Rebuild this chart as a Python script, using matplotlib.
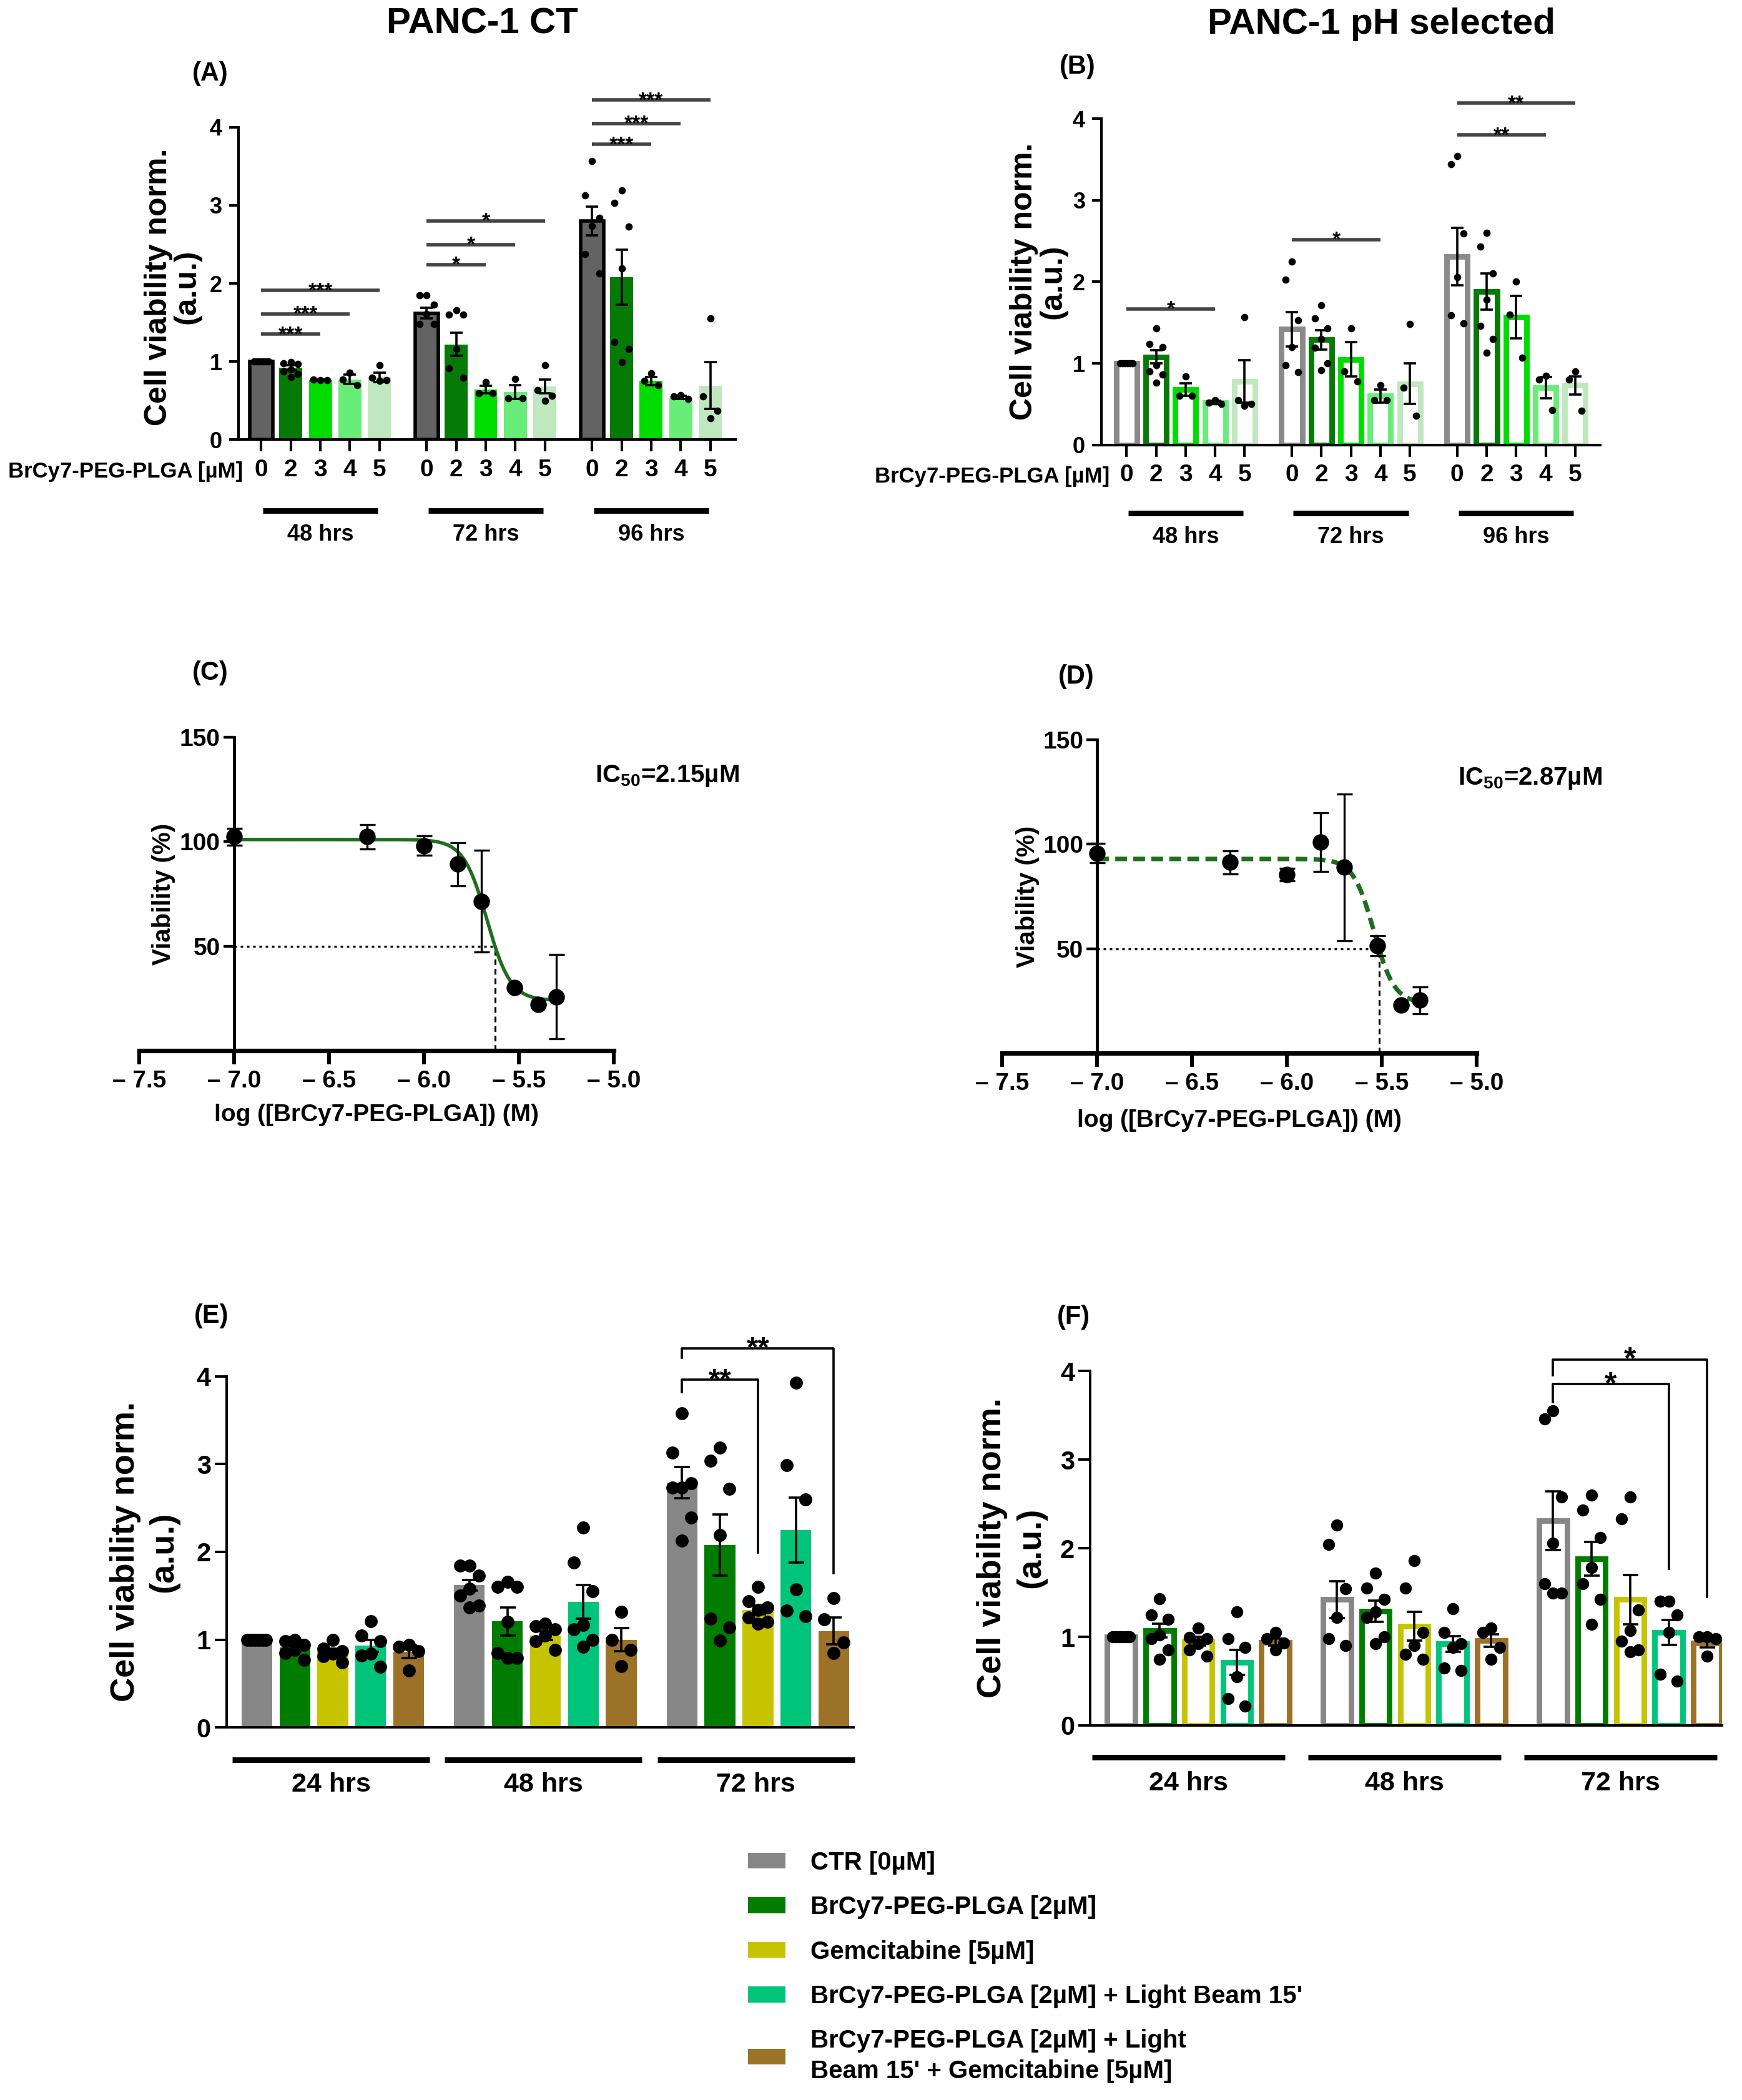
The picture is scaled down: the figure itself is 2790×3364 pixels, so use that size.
import numpy as np
import matplotlib
matplotlib.use("Agg")
import matplotlib.pyplot as plt
from matplotlib.patches import Patch

plt.rcParams['font.family'] = ['Liberation Sans', 'DejaVu Sans']
plt.rcParams['font.weight'] = 'bold'
plt.rcParams['mathtext.fontset'] = 'custom'
plt.rcParams['mathtext.rm'] = 'Liberation Sans:bold'
plt.rcParams['mathtext.bf'] = 'Liberation Sans:bold'
plt.rcParams['mathtext.it'] = 'Liberation Sans:bold'

# ---------------------------------------------------------------- data
doses = ['0', '2', '3', '4', '5']
times_AB = ['48 hrs', '72 hrs', '96 hrs']
times_EF = ['24 hrs', '48 hrs', '72 hrs']

# (A) PANC-1 CT, BrCy7-PEG-PLGA 0/2/3/4/5 uM
A_mean = [[1.00, 0.92, 0.76, 0.77, 0.80],
          [1.62, 1.22, 0.64, 0.61, 0.68],
          [2.80, 2.08, 0.75, 0.54, 0.69]]
A_sem = [[0.00, 0.03, 0.01, 0.06, 0.06],
         [0.07, 0.15, 0.05, 0.09, 0.09],
         [0.18, 0.35, 0.05, 0.02, 0.30]]
A_pts = [
    [[1.0] * 6, [0.99, 0.98, 0.97, 0.90, 0.87, 0.84, 0.80], [0.77, 0.76, 0.76],
     [0.86, 0.77, 0.70], [0.95, 0.79, 0.76, 0.75]],
    [[1.85, 1.85, 1.73, 1.61, 1.48, 1.48], [1.66, 1.60, 1.60, 1.16, 0.91, 0.79],
     [0.74, 0.59, 0.59], [0.78, 0.53, 0.53], [0.95, 0.63, 0.56, 0.50]],
    [[3.57, 3.13, 2.84, 2.74, 2.38, 2.13], [3.19, 3.03, 2.73, 2.19, 1.25, 1.16, 0.99],
     [0.85, 0.75, 0.70], [0.57, 0.55, 0.52], [1.55, 0.55, 0.37, 0.27]],
]
# (group, bar index, y, label)
A_sig = [(0, 2, 1.35, '***'), (0, 3, 1.61, '***'), (0, 4, 1.91, '***'),
         (1, 2, 2.24, '*'), (1, 3, 2.50, '*'), (1, 4, 2.80, '*'),
         (2, 2, 3.78, '***'), (2, 3, 4.05, '***'), (2, 4, 4.35, '***')]

# (B) PANC-1 pH selected
B_mean = [[1.00, 1.08, 0.68, 0.52, 0.78],
          [1.42, 1.29, 1.05, 0.60, 0.75],
          [2.31, 1.88, 1.57, 0.70, 0.73]]
B_sem = [[0.00, 0.08, 0.075, 0.02, 0.26],
         [0.21, 0.12, 0.21, 0.08, 0.25],
         [0.35, 0.22, 0.26, 0.13, 0.11]]
B_pts = [
    [[1.0] * 6, [1.43, 1.24, 1.20, 0.98, 0.90, 0.86, 0.76], [0.84, 0.60, 0.60],
     [0.55, 0.52, 0.50], [1.57, 0.55, 0.50, 0.48]],
    [[2.25, 2.03, 1.53, 1.20, 0.98, 0.89], [1.71, 1.55, 1.43, 1.30, 1.19, 1.00, 0.92],
     [1.43, 0.90, 0.78], [0.73, 0.55, 0.55], [1.48, 0.70, 0.36]],
    [[3.54, 3.44, 2.59, 2.06, 1.59, 1.49], [2.60, 2.43, 2.10, 1.78, 1.46, 1.30, 1.13],
     [2.00, 1.60, 1.07], [0.85, 0.80, 0.43], [0.90, 0.80, 0.42]],
]
B_sig = [(0, 3, 1.67, '*'), (1, 3, 2.52, '*'), (2, 3, 3.80, '**'), (2, 4, 4.19, '**')]

# (C)/(D) dose response
conc_uM = [0.1, 0.5, 1.0, 1.5, 2.0, 3.0, 4.0, 5.0]
C_via = [102.3, 102.3, 98.0, 89.2, 71.5, 30.3, 22.0, 25.8]
C_err = [4.0, 5.8, 4.6, 10.4, 24.3, 0.0, 0.0, 20.2]
D_via = [95.7, 91.4, 85.5, 101.0, 89.0, 51.4, 23.0, 25.4]
D_err = [4.6, 5.6, 3.0, 14.0, 35.0, 4.8, 0.0, 6.4]
C_ic50_uM, C_top, C_bottom, C_hill = 2.15, 101.0, 24.0, 7.0
D_ic50_uM, D_top, D_bottom, D_hill = 2.87, 93.0, 24.0, 8.0

# (E)/(F) treatments
treat_labels = ['CTR [0\u00b5M]', 'BrCy7-PEG-PLGA [2\u00b5M]', 'Gemcitabine [5\u00b5M]',
                "BrCy7-PEG-PLGA [2\u00b5M] + Light Beam 15'",
                "BrCy7-PEG-PLGA [2\u00b5M] + Light\nBeam 15' + Gemcitabine [5\u00b5M]"]
E_mean = [[1.00, 0.91, 0.87, 0.93, 0.86],
          [1.62, 1.21, 1.05, 1.43, 1.00],
          [2.79, 2.08, 1.34, 2.25, 1.10]]
E_sem = [[0.00, 0.03, 0.03, 0.07, 0.07],
         [0.06, 0.16, 0.05, 0.19, 0.13],
         [0.18, 0.35, 0.05, 0.37, 0.15]]
E_pts = [
    [[1.0] * 6, [1.00, 0.98, 0.94, 0.88, 0.85, 0.77], [1.00, 0.90, 0.87, 0.84, 0.81, 0.74],
     [1.21, 1.05, 0.98, 0.84, 0.82, 0.69], [0.94, 0.92, 0.87, 0.65]],
    [[1.84, 1.84, 1.73, 1.58, 1.50, 1.39, 1.37], [1.66, 1.60, 1.60, 1.20, 0.85, 0.79, 0.79],
     [1.18, 1.15, 1.12, 1.05, 0.98, 0.88], [2.28, 1.88, 1.55, 1.17, 1.12, 1.00, 0.92],
     [1.32, 1.00, 0.88, 0.70]],
    [[3.58, 3.13, 2.78, 2.73, 2.73, 2.39, 2.13], [3.19, 3.04, 2.72, 2.19, 1.24, 1.14, 0.99],
     [1.60, 1.44, 1.37, 1.34, 1.25, 1.20, 1.18], [3.93, 2.99, 2.60, 1.57, 1.33, 1.27],
     [1.47, 1.23, 0.97, 0.85]],
]
# (bar index, top, left leg end, right leg end, label) inside the last group
E_br = [(2, 3.96, 3.82, 1.99, '**'), (4, 4.32, 4.21, 1.76, '**')]

F_mean = [[1.00, 1.07, 0.95, 0.71, 0.94],
          [1.42, 1.29, 1.12, 0.92, 0.96],
          [2.31, 1.88, 1.42, 1.05, 0.93]]
F_sem = [[0.00, 0.08, 0.05, 0.14, 0.04],
         [0.21, 0.12, 0.16, 0.09, 0.07],
         [0.33, 0.19, 0.28, 0.14, 0.05]]
F_pts = [
    [[1.0] * 6, [1.43, 1.25, 1.20, 1.02, 0.98, 0.85, 0.75], [1.10, 0.99, 0.98, 0.92, 0.85, 0.78],
     [1.28, 0.98, 0.88, 0.55, 0.30, 0.22], [1.05, 0.98, 0.93, 0.85]],
    [[2.26, 2.04, 1.54, 1.22, 0.98, 0.90], [1.72, 1.55, 1.42, 1.28, 1.22, 1.00, 0.92],
     [1.86, 1.55, 1.05, 0.90, 0.80, 0.75], [1.32, 1.05, 0.92, 0.88, 0.65, 0.62],
     [1.10, 1.05, 0.88, 0.75]],
    [[3.55, 3.46, 2.58, 2.06, 1.60, 1.49, 1.49], [2.60, 2.43, 2.12, 1.78, 1.60, 1.42, 1.14],
     [2.58, 2.33, 1.30, 1.07, 0.95, 0.85, 0.83], [1.40, 1.40, 1.25, 1.05, 0.58, 0.50],
     [1.00, 1.00, 0.98, 0.78]],
]
F_br = [(3, 3.85, 3.65, 1.77, '*'), (4, 4.13, 3.95, 1.45, '*')]

AB_colors = ['#636363', '#067a06', '#00dc00', '#68ee78', '#bfe8bf']
B_colors = ['#8a8a8a', '#067a06', '#00dc00', '#68ee78', '#bfe8bf']
EF_colors = ['#878787', '#007c00', '#c6c400', '#00c47a', '#9b7228']
C_curve_color = '#1e6e1e'

# ---------------------------------------------------------------- layout helpers
W, H = 1300.0, 1567.0
GROUP_X = [0.0, 5.6, 11.2]

fig = plt.figure(figsize=(13.95, 16.82), dpi=200)


def rect(l, r, t, b):
    return [l / W, 1 - b / H, (r - l) / W, (b - t) / H]


def ftext(x, y, s, **kw):
    fig.text(x / W, 1 - y / H, s, **kw)


def spread(vals, s=0.22):
    vals = np.asarray(vals, float)
    n = len(vals)
    if vals.max() - vals.min() < 0.02:
        return np.linspace(-s, s, n)
    pattern = np.array([0.0, -s, s])
    off = np.zeros(n)
    off[np.argsort(-vals)] = pattern[np.arange(n) % 3]
    return off


def draw_bars(ax, means, sems, pts, colors, hollow, width, ms, cap, first_edge=False):
    for g, x0 in enumerate(GROUP_X):
        for i in range(5):
            x = x0 + i
            if hollow:
                ax.bar(x, means[g][i], width, facecolor='white', edgecolor=colors[i],
                       linewidth=3.2, zorder=2)
            elif i == 0 and first_edge:
                ax.bar(x, means[g][i], width, facecolor=colors[i], edgecolor='black',
                       linewidth=2.0, zorder=2)
            else:
                ax.bar(x, means[g][i], width, color=colors[i], linewidth=0, zorder=2)
            ax.errorbar(x, means[g][i], yerr=sems[g][i], fmt='none', ecolor='black',
                        elinewidth=1.3, capsize=cap, capthick=1.3, zorder=3)
            p = np.asarray(pts[g][i])
            ax.plot(x + spread(p, 0.24 * width / 0.78), p, 'o', color='black', ms=ms,
                    mec='none', zorder=4, clip_on=False)


def bar_axes(ax, xlim, ysize, spine_w, tick_len, pad):
    ax.set_xlim(*xlim)
    ax.set_ylim(0, 4)
    ax.set_yticks(range(5))
    ax.spines['top'].set_visible(False)
    ax.spines['right'].set_visible(False)
    ax.spines['left'].set_linewidth(spine_w)
    ax.spines['bottom'].set_linewidth(spine_w)
    ax.tick_params(axis='y', length=tick_len, width=spine_w, labelsize=ysize, pad=pad)


def group_lines(ax, labels, a, b, yl, yt, size):
    tr = ax.get_xaxis_transform()
    for x0, lab in zip(GROUP_X, labels):
        ax.plot([x0 + a, x0 + b], [yl, yl], color='black', lw=3.2, transform=tr,
                clip_on=False, solid_capstyle='butt')
        ax.text(x0 + (a + b) / 2, yt, lab, transform=tr, ha='center', va='center',
                fontsize=size)


def sig_lines(ax, sig, size, color):
    for g, k, y, stars in sig:
        x0 = GROUP_X[g]
        ax.plot([x0, x0 + k], [y, y], color=color, lw=2.0, clip_on=False,
                solid_capstyle='butt')
        ax.annotate(stars, (x0 + k / 2, y), xytext=(0, -0.3 * size), textcoords='offset points',
                    ha='center', va='baseline', fontsize=size, annotation_clip=False)


def brackets(ax, br, size):
    x0 = GROUP_X[2]
    for k, top, lb, rb, stars in br:
        ax.plot([x0, x0, x0 + k, x0 + k], [lb, top, top, rb], color='black', lw=1.3,
                clip_on=False)
        ax.annotate(stars, (x0 + k / 2, top), xytext=(0, -0.3 * size), textcoords='offset points',
                    ha='center', va='baseline', fontsize=size, annotation_clip=False)


def dose_axes(ax, logx, via, err, top, bottom, ic50_uM, hill, dashed):
    ax.set_xlim(-7.5, -5.0)
    ax.set_ylim(0, 150)
    ax.spines['top'].set_visible(False)
    ax.spines['right'].set_visible(False)
    ax.spines['left'].set_position(('data', -7.0))
    ax.spines['left'].set_bounds(0, 150)
    ax.spines['left'].set_linewidth(1.8)
    ax.spines['bottom'].set_linewidth(2.6)
    xt = np.arange(-7.5, -4.99, 0.5)
    ax.set_xticks(xt)
    ax.set_xticklabels(['\u2013 %.1f' % abs(v) for v in xt])
    ax.set_yticks([50, 100, 150])
    ax.tick_params(axis='x', length=8, width=2.2, labelsize=14, pad=3)
    ax.tick_params(axis='y', length=6, width=1.6, labelsize=14, pad=2)
    m = np.log10(ic50_uM * 1e-6)
    xs = np.linspace(-7.0, -5.3, 400)
    ys = bottom + (top - bottom) / (1 + 10 ** ((xs - m) * hill))
    if dashed:
        ax.plot(xs, ys, color=C_curve_color, lw=2.6, dashes=(2.6, 1.4), zorder=2)
    else:
        ax.plot(xs, ys, color=C_curve_color, lw=2.0, zorder=2)
    x50 = m + np.log10((top - bottom) / (50 - bottom) - 1) / hill
    ax.plot([-7.0, x50], [50, 50], color='black', lw=1.2, dashes=(1.2, 1.8), zorder=1)
    ax.plot([x50, x50], [0, 50], color='black', lw=1.1, dashes=(3, 2), zorder=1)
    ax.errorbar(logx, via, yerr=err, fmt='o', color='black', ms=8.5, elinewidth=1.2,
                capsize=4.5, capthick=1.2, zorder=3, clip_on=False)


# ---------------------------------------------------------------- (A)
axA = fig.add_axes(rect(178, 549, 95, 328))
draw_bars(axA, A_mean, A_sem, A_pts, AB_colors, False, 0.78, 4.2, 3.5, first_edge=True)
bar_axes(axA, (-0.77, 16.06), 13, 1.5, 5.5, 4)
axA.set_xticks([x0 + i for x0 in GROUP_X for i in range(5)])
axA.set_xticklabels(doses * 3)
axA.tick_params(axis='x', length=7, width=1.5, labelsize=14, pad=4)
axA.text(-0.62, -0.103, 'BrCy7-PEG-PLGA [\u00b5M]', transform=axA.get_xaxis_transform(),
         ha='right', va='center', fontsize=12.5)
group_lines(axA, times_AB, 0.05, 3.95, -0.228, -0.305, 13)
sig_lines(axA, A_sig, 12, '#454545')

# ---------------------------------------------------------------- (B)
axB = fig.add_axes(rect(822, 1194, 88.6, 332))
draw_bars(axB, B_mean, B_sem, B_pts, B_colors, True, 0.70, 4.2, 3.5)
bar_axes(axB, (-0.85, 16.04), 13, 1.5, 5.5, 4)
axB.set_xticks([x0 + i for x0 in GROUP_X for i in range(5)])
axB.set_xticklabels(doses * 3)
axB.tick_params(axis='x', length=7, width=1.5, labelsize=14, pad=4)
axB.text(-0.58, -0.097, 'BrCy7-PEG-PLGA [\u00b5M]', transform=axB.get_xaxis_transform(),
         ha='right', va='center', fontsize=12.5)
group_lines(axB, times_AB, 0.05, 3.95, -0.21, -0.283, 13)
sig_lines(axB, B_sig, 12, '#454545')

# ---------------------------------------------------------------- (C) and (D)
logx = np.log10(np.array(conc_uM) * 1e-6)
axC = fig.add_axes(rect(104, 458, 550, 784))
dose_axes(axC, logx, C_via, C_err, C_top, C_bottom, C_ic50_uM, C_hill, False)
axD = fig.add_axes(rect(748, 1102, 552, 786))
dose_axes(axD, logx, D_via, D_err, D_top, D_bottom, D_ic50_uM, D_hill, True)

# ---------------------------------------------------------------- (E) and (F)
axE = fig.add_axes(rect(169, 637, 1027, 1289))
draw_bars(axE, E_mean, E_sem, E_pts, EF_colors, False, 0.81, 7.5, 4.5)
bar_axes(axE, (-0.8, 15.72), 15, 1.4, 7, 2)
axE.set_xticks([])
group_lines(axE, times_EF, -0.65, 4.55, -0.092, -0.164, 15.5)
brackets(axE, E_br, 17)

axF = fig.add_axes(rect(813.6, 1285, 1023, 1287.5))
draw_bars(axF, F_mean, F_sem, F_pts, EF_colors, True, 0.72, 7.0, 4.5)
bar_axes(axF, (-0.8, 15.58), 15, 1.4, 7, 2)
axF.set_xticks([])
group_lines(axF, times_EF, -0.75, 4.25, -0.089, -0.164, 15.5)
brackets(axF, F_br, 18)

# ---------------------------------------------------------------- texts
ftext(360, 18, 'PANC-1 CT', ha='center', va='center', fontsize=21)
ftext(1031, 18, 'PANC-1 pH selected', ha='center', va='center', fontsize=21)
for x, y, s in [(157, 55, '(A)'), (804, 50, '(B)'), (157, 502, '(C)'),
                (803, 505, '(D)'), (158, 982, '(E)'), (801, 983, '(F)')]:
    ftext(x, y, s, ha='center', va='center', fontsize=15)

ylab = 'Cell viability norm.\n(a.u.)'
ftext(129, 214, ylab, rotation=90, ha='center', va='center', fontsize=18, linespacing=1.0)
ftext(775, 210, ylab, rotation=90, ha='center', va='center', fontsize=18, linespacing=1.0)
ftext(108, 1158, ylab, rotation=90, ha='center', va='center', fontsize=19.5, linespacing=1.3)
ftext(755, 1155, ylab, rotation=90, ha='center', va='center', fontsize=19.5, linespacing=1.3)

ftext(122, 667, 'Viability (%)', rotation=90, ha='center', va='center', fontsize=14.5)
ftext(767, 669, 'Viability (%)', rotation=90, ha='center', va='center', fontsize=14.5)
ftext(281, 832, 'log ([BrCy7-PEG-PLGA]) (M)', ha='center', va='center', fontsize=14)
ftext(925, 836, 'log ([BrCy7-PEG-PLGA]) (M)', ha='center', va='center', fontsize=14)
ftext(444, 579, 'IC$_{50}$=%.2f\u00b5M' % C_ic50_uM, ha='left', va='center', fontsize=14.5)
ftext(1088, 581, 'IC$_{50}$=%.2f\u00b5M' % D_ic50_uM, ha='left', va='center', fontsize=14.5)

# ---------------------------------------------------------------- legend
handles = [Patch(facecolor=c, edgecolor='none') for c in EF_colors]
leg = fig.legend(handles, treat_labels, loc='upper left', bbox_to_anchor=(558 / W, 1 - 1381 / H),
                 frameon=False, fontsize=14.5, handlelength=1.5, handleheight=0.6,
                 handletextpad=1.0, labelspacing=0.83, borderpad=0, borderaxespad=0)
for t in leg.get_texts():
    t.set_linespacing(1.35)

fig.savefig('out.png', dpi=200, facecolor='white')
